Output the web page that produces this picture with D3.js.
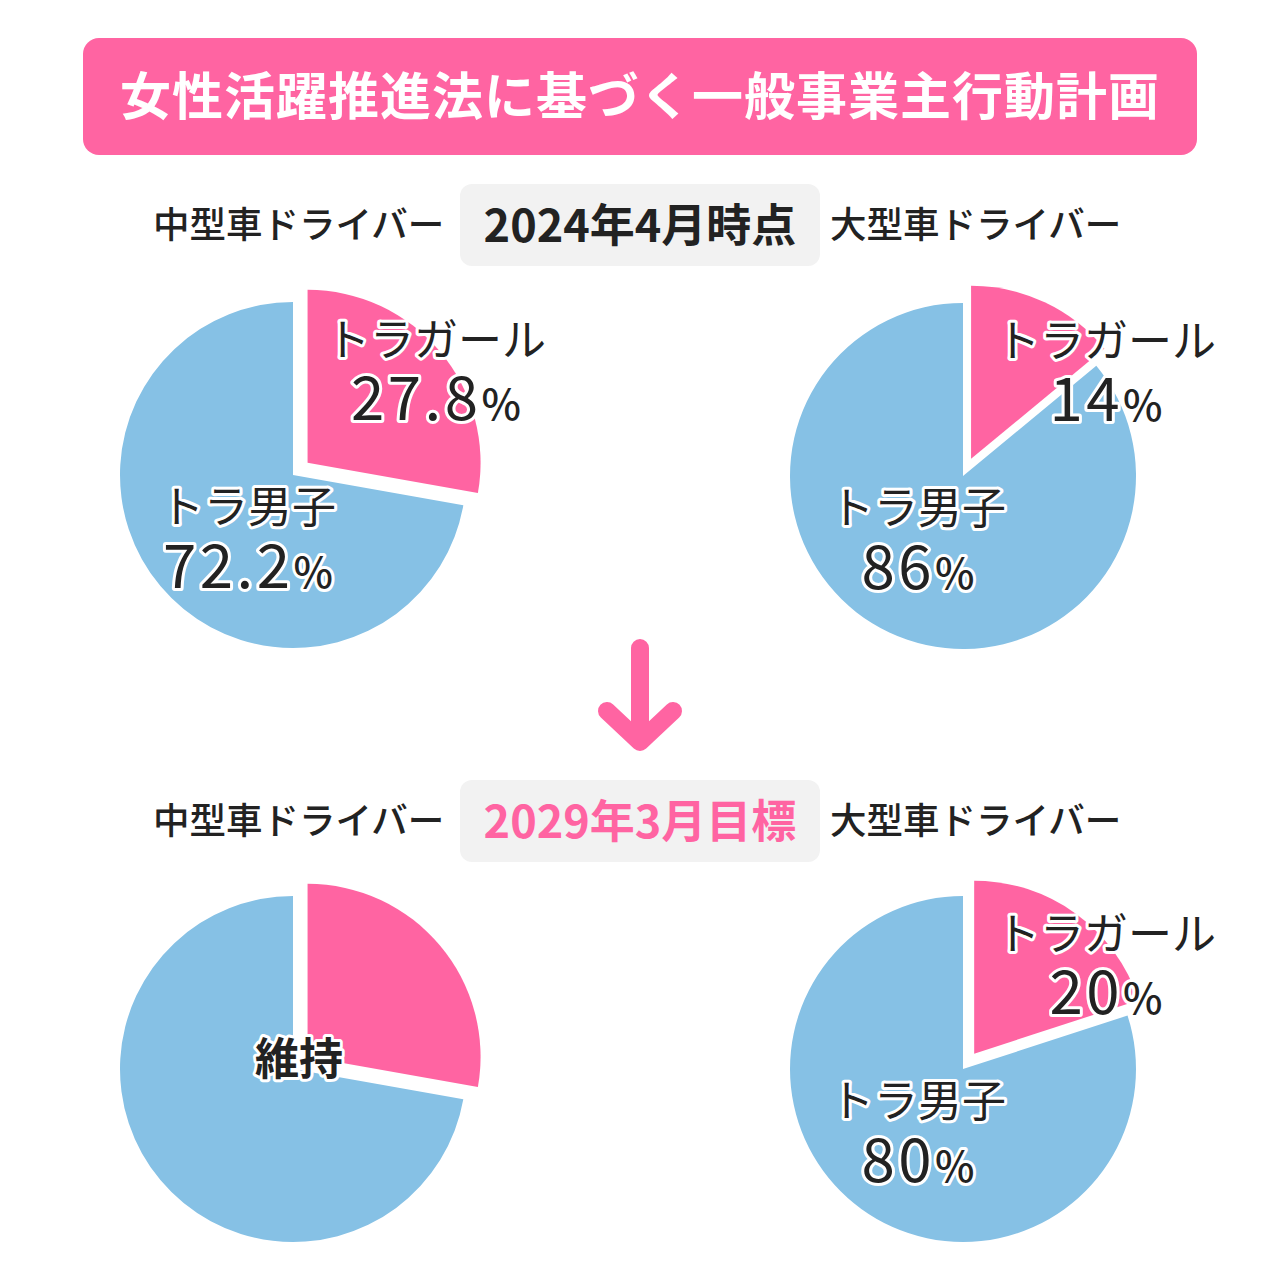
<!DOCTYPE html>
<html>
<head>
<meta charset="utf-8">
<script src="https://cdn.jsdelivr.net/npm/d3@7"></script>
<style>
  body { margin: 0; background: #fff; }
  svg { display: block; font-family: "Noto Sans CJK JP", "Noto Sans", sans-serif; }
</style>
</head>
<body>
<div id="chart"></div>
<script>
// data
const title = "女性活躍推進法に基づく一般事業主行動計画";
const groupLabels = ["中型車ドライバー", "大型車ドライバー"];
const periods = ["2024年4月時点", "2029年3月目標"];
const categories = ["トラガール", "トラ男子"];
const mid2024 = [27.8, 72.2];
const large2024 = [14, 86];
const mid2029 = [27.8, 72.2];   // 維持
const large2029 = [20, 80];

const colors = { "トラガール": "#ff64a2", "トラ男子": "#86c1e5" };
const pink = "#ff64a2";

const width = 1280, height = 1280;
const svg = d3.select("#chart").append("svg")
    .attr("width", width)
    .attr("height", height);

// title banner
svg.append("rect")
    .attr("x", 83).attr("y", 38).attr("width", 1114).attr("height", 117)
    .attr("rx", 16).attr("fill", pink);
svg.append("text")
    .attr("x", 640).attr("y", 115)
    .attr("text-anchor", "middle")
    .attr("font-size", 51).attr("font-weight", 700)
    .attr("letter-spacing", 1)
    .attr("fill", "#fff")
    .text(title);

// period rows
function periodRow(y, period, color) {
    let g = svg.append("g").attr("transform", `translate(0,${y})`);
    g.append("rect")
        .attr("x", 460).attr("y", -42).attr("width", 360).attr("height", 82)
        .attr("rx", 12).attr("fill", "#f2f2f2");
    g.append("text")
        .attr("x", 640).attr("y", 16)
        .attr("text-anchor", "middle")
        .attr("font-size", 45).attr("font-weight", 700)
        .attr("fill", color)
        .text(period);
    g.append("text")
        .attr("x", 153).attr("y", 12)
        .attr("font-size", 36.5).attr("font-weight", 500)
        .attr("fill", "#222")
        .text(groupLabels[0]);
    g.append("text")
        .attr("x", 830).attr("y", 12)
        .attr("font-size", 36.5).attr("font-weight", 500)
        .attr("fill", "#222")
        .text(groupLabels[1]);
}
periodRow(226, periods[0], "#222");
periodRow(822, periods[1], pink);

// arrow
svg.append("path")
    .attr("d", "M640,648 L640,738 M607,711 L640,742 L673,711")
    .attr("fill", "none")
    .attr("stroke", pink)
    .attr("stroke-width", 18)
    .attr("stroke-linecap", "round")
    .attr("stroke-linejoin", "round");

// pies
const radius = 173;
const explode = 19;
const pie = d3.pie().sort(null).value(d => d.value);
const arc = d3.arc().innerRadius(0).outerRadius(radius);

function haloText(g, x, y, parts, opts) {
    let t = g.append("text")
        .attr("x", x).attr("y", y)
        .attr("text-anchor", "middle")
        .attr("fill", "#222")
        .attr("stroke", "#fff")
        .attr("stroke-width", 6)
        .attr("stroke-linejoin", "round")
        .attr("paint-order", "stroke")
        .attr("font-weight", opts.weight || 400);
    parts.forEach(p => {
        let s = t.append("tspan").attr("font-size", p.size).text(p.text);
        if (p.weight) s.attr("font-weight", p.weight);
        if (p.spacing) s.attr("letter-spacing", p.spacing);
    });
}

function pct(v) {
    return [
        { text: v, size: 60, weight: 400, spacing: 3.5 },
        { text: "%", size: 42, weight: 500 }
    ];
}

function drawPie(cx, cy, values, keep) {
    let data = categories.map((c, i) => ({ name: c, value: values[i] }));
    let g = svg.append("g").attr("transform", `translate(${cx},${cy})`);
    let arcs = pie(data);
    g.selectAll("path")
        .data(arcs)
        .enter()
        .append("path")
        .attr("d", arc)
        .attr("fill", d => colors[d.data.name])
        .attr("transform", function(d, i) {
            if (i !== 0) return null;
            let a = (d.startAngle + d.endAngle) / 2;
            return `translate(${Math.sin(a) * explode},${-Math.cos(a) * explode})`;
        });

    if (keep) {
        haloText(g, 6, 6, [{ text: "維持", size: 44 }], { weight: 700 });
        return;
    }
    let girl = arcs[0].data, boy = arcs[1].data;
    haloText(g, 143, -119, [{ text: girl.name, size: 44 }], {});
    haloText(g, 143, -55, pct(girl.value), {});
    haloText(g, -45, 48, [{ text: boy.name, size: 44 }], {});
    haloText(g, -45, 113, pct(boy.value), {});
}

drawPie(293, 475, mid2024, false);
drawPie(963, 476, large2024, false);
drawPie(293, 1069, mid2029, true);
drawPie(963, 1069, large2029, false);
</script>
</body>
</html>
